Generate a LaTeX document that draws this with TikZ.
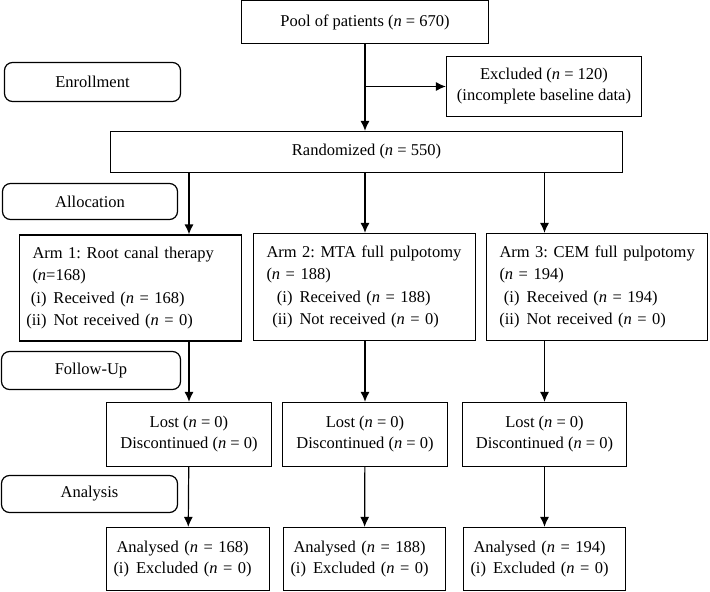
\documentclass[tikz,border=0pt]{standalone}
\usepackage{fontspec}
\setmainfont{Liberation Serif}
\usetikzlibrary{arrows.meta}
\newcommand{\itm}[2]{\hspace*{#1}\llap{#2\hspace{7pt}}}
\frenchspacing

\begin{document}
\begin{tikzpicture}[->,>={Latex[length=10pt,width=9pt]},x=1pt,y=-1pt,line width=1.2pt,
  box node/.style={rectangle,draw,font=\fontsize{16.5}{21}\selectfont,inner sep=0pt,align=center},
  left node/.style={box node,align=left,inner xsep=13pt},
  arm node/.style={left node,font=\fontsize{16.5}{22.3}\selectfont},
  stage node/.style={rectangle,draw,rounded corners=8pt,font=\fontsize{16.5}{21}\selectfont,inner sep=0pt}]

  \useasboundingbox (0,0) rectangle (710,592);

  % enrollment
  \node[box node,minimum width=247pt,minimum height=43pt] (pool) at (365,22) {Pool of patients (\textit{n} = 670)};
  \node[stage node,minimum width=176pt,minimum height=39pt] (enrol) at (92.5,82) {Enrollment};
  \node[box node,minimum width=195pt,minimum height=60pt] (excl) at (544,86.5) {Excluded (\textit{n} = 120)\\(incomplete baseline data)};
  \node[box node,minimum width=512pt,minimum height=41pt] (rand) at (366.5,152) {Randomized (\textit{n} = 550)};

  % allocation
  \node[stage node,minimum width=175pt,minimum height=36pt] (alloc) at (90,201.5) {Allocation};
  \node[arm node,text width=196pt,minimum height=106pt] (arm1) at (130.5,288) {\mbox{Arm 1: Root canal therapy}\\(\textit{n}=168)\\\itm{21pt}{(i)}Received (\textit{n} = 168)\\\itm{21pt}{(ii)}Not received (\textit{n} = 0)};
  \node[arm node,text width=196pt,minimum height=107pt] (arm2) at (364.5,287) {\mbox{Arm 2: MTA full pulpotomy}\\(\textit{n} = 188)\\\itm{33pt}{(i)}Received (\textit{n} = 188)\\\itm{33pt}{(ii)}Not received (\textit{n} = 0)};
  \node[arm node,text width=195pt,minimum height=107pt] (arm3) at (597,287) {\mbox{Arm 3: CEM full pulpotomy}\\(\textit{n} = 194)\\\itm{27pt}{(i)}Received (\textit{n} = 194)\\\itm{27pt}{(ii)}Not received (\textit{n} = 0)};

  % follow-up
  \node[stage node,minimum width=179pt,minimum height=38pt] (follow) at (91,370.5) {Follow-Up};
  \node[box node,minimum width=165pt,minimum height=64pt] (lost1) at (189,434.5) {Lost (\textit{n} = 0)\\Discontinued (\textit{n} = 0)};
  \node[box node,minimum width=165pt,minimum height=64pt] (lost2) at (365,434.5) {Lost (\textit{n} = 0)\\Discontinued (\textit{n} = 0)};
  \node[box node,minimum width=164pt,minimum height=64pt] (lost3) at (544.5,434.5) {Lost (\textit{n} = 0)\\Discontinued (\textit{n} = 0)};

  % analysis
  \node[stage node,minimum width=176pt,minimum height=37pt] (analysis) at (89.5,494) {Analysis};
  \node[left node,inner xsep=7pt,text width=149pt,minimum height=63pt] (an1) at (188,559) {\hspace*{3pt}Analysed (\textit{n} = 168)\\(i)\hspace{7pt}Excluded (\textit{n} = 0)};
  \node[left node,inner xsep=7pt,text width=148pt,minimum height=63pt] (an2) at (364.5,559) {\hspace*{3pt}Analysed (\textit{n} = 188)\\(i)\hspace{7pt}Excluded (\textit{n} = 0)};
  \node[left node,inner xsep=7pt,text width=148pt,minimum height=63pt] (an3) at (544.5,559) {\hspace*{3pt}Analysed (\textit{n} = 194)\\(i)\hspace{7pt}Excluded (\textit{n} = 0)};

  \path
       (pool) edge (rand.north -| pool.south)
       (pool.south |- excl.west) edge (excl.west);

  \path
       (rand.south -| lost1.north) edge (arm1.north -| lost1.north)
       (rand.south -| lost2.north) edge (arm2.north -| lost2.north)
       (rand.south -| lost3.north) edge (arm3.north -| lost3.north)
       (arm1.south -| lost1.north) edge (lost1)
       (arm2.south -| lost2.north) edge (lost2)
       (arm3.south -| lost3.north) edge (lost3)
       (lost1) edge (an1)
       (lost2) edge (an2)
       (lost3) edge (an3);
\end{tikzpicture}
\end{document}
